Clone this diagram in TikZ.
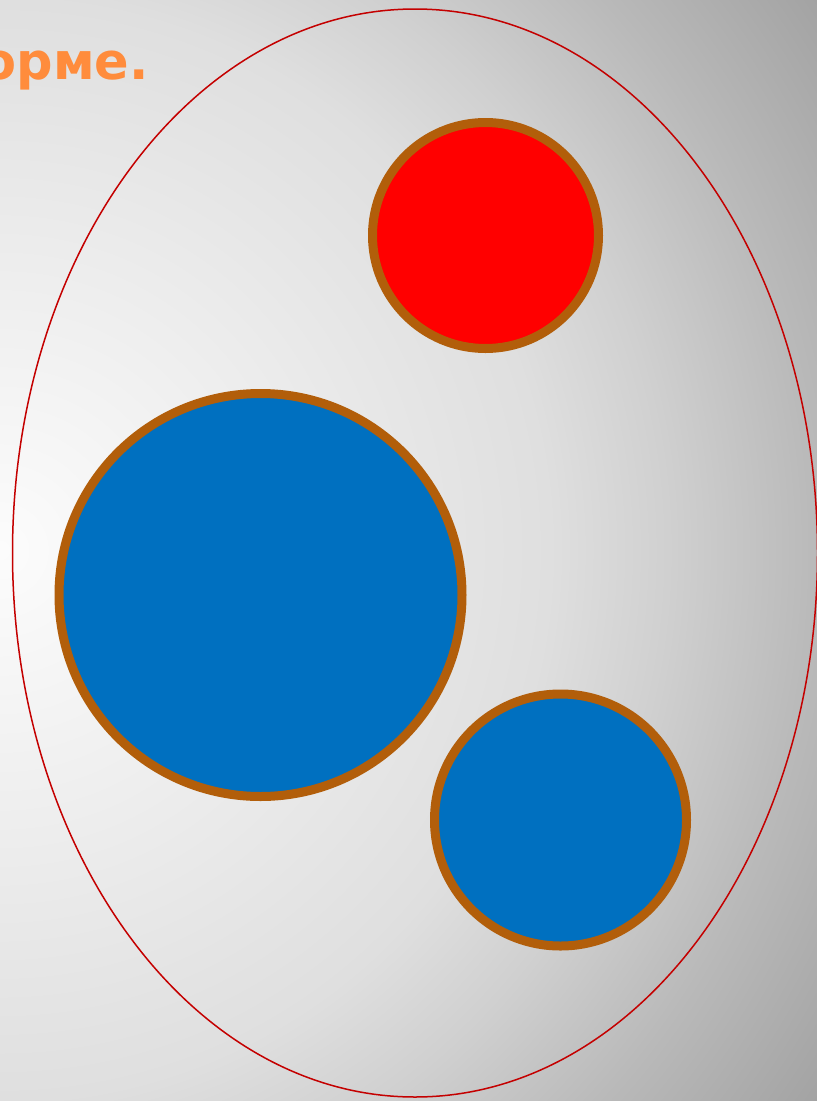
\documentclass[tikz,border=0pt]{standalone}
\usepackage{fontspec}
\newfontfamily\headfont{DejaVu Sans}
\usetikzlibrary{shapes.geometric}
\definecolor{rim}{RGB}{178,94,10}
\definecolor{cell}{RGB}{0,112,192}
\definecolor{core}{RGB}{255,0,0}
\definecolor{shell}{RGB}{196,0,0}
\definecolor{title}{RGB}{255,140,60}
\definecolor{bgA}{RGB}{252,252,252}
\definecolor{bgB}{RGB}{238,238,238}
\definecolor{bgC}{RGB}{223,223,223}
\definecolor{bgD}{RGB}{208,208,208}
\definecolor{bgE}{RGB}{185,185,185}
\definecolor{bgF}{RGB}{163,163,163}
\pgfdeclareradialshading{backdrop}{\pgfpoint{0bp}{0bp}}{%
  color(0bp)=(bgA); color(6.85bp)=(bgB); color(13.95bp)=(bgC);
  color(16.95bp)=(bgD); color(20.75bp)=(bgE); color(25bp)=(bgF); color(50bp)=(bgF)}
\tikzset{
  egg/.style={draw=shell, line width=1.5pt, ellipse, inner sep=0pt},
  ball/.style={circle, draw=rim, line width=9pt, inner sep=0pt},
  redball/.style={ball, fill=core},
  blueball/.style={ball, fill=cell},
  heading/.style={font=\headfont\bfseries\fontsize{51}{60}\selectfont, text=title, inner sep=0pt},
}

\begin{document}
\begin{tikzpicture}[x=1pt, y=-1pt]
  \useasboundingbox (0,0) rectangle (817,1101);
  \begin{scope}
    \clip (0,0) rectangle (817,1101);
    \shade[shading=backdrop] (-985,-435) rectangle (985,1535);
    \node[heading, anchor=base east] (head) at (149,79) {орме.};
  \end{scope}
  \node[egg, minimum width=805pt, minimum height=1088pt] (shellnode) at (415,553) {};
  \node[redball, minimum size=226pt] (top) at (485.5,235.5) {};
  \node[blueball, minimum size=403pt] (big) at (260.5,595) {};
  \node[blueball, minimum size=252pt] (small) at (560.5,820) {};
\end{tikzpicture}
\end{document}
